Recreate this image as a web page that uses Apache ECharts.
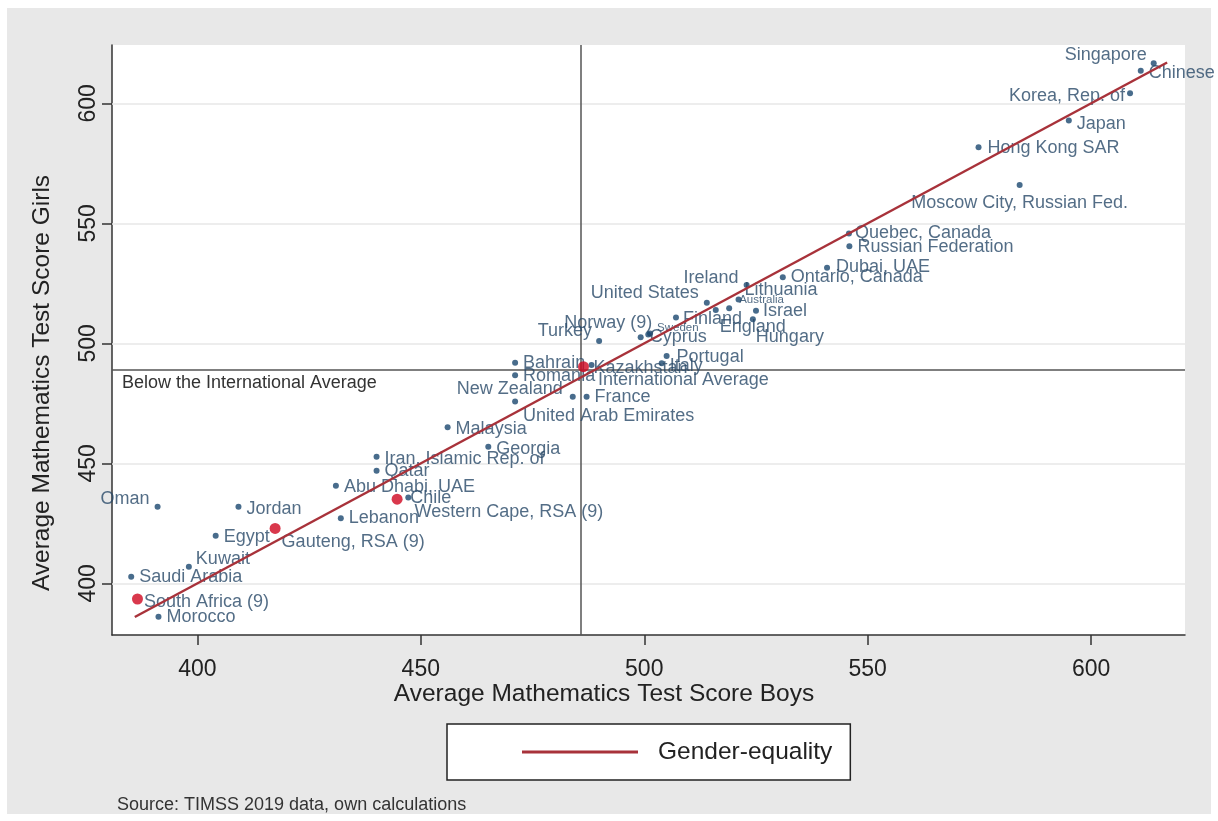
<!DOCTYPE html>
<html>
<head>
<meta charset="utf-8">
<title>TIMSS 2019 mathematics: boys vs girls</title>
<script src="https://cdn.jsdelivr.net/npm/echarts@6/dist/echarts.min.js"></script>
<style>
  html, body { margin: 0; padding: 0; background: #ffffff; }
  #chart { width: 1218px; height: 821px; }
</style>
</head>
<body>
<div id="chart"></div>
<script>
// Average mathematics scores (TIMSS 2019, grade 8) by gender
const countries = [
  'Singapore', 'Chinese', 'Korea, Rep. of', 'Japan', 'Hong Kong SAR',
  'Moscow City, Russian Fed.', 'Quebec, Canada', 'Russian Federation', 'Dubai, UAE',
  'Ontario, Canada', 'Ireland', 'Lithuania', 'Australia', 'England', 'Hungary', 'Israel',
  'United States', 'Finland', 'Norway (9)', 'Sweden', 'Cyprus', 'Turkey', 'Portugal',
  'Italy', 'Kazakhstan', 'Bahrain', 'Romania', 'New Zealand', 'United Arab Emirates',
  'France', 'Malaysia', 'Georgia', 'Iran, Islamic Rep. of', 'Qatar', 'Abu Dhabi, UAE',
  'Chile', 'Lebanon', 'Oman', 'Jordan', 'Egypt', 'Kuwait', 'Saudi Arabia', 'Morocco'
];
const boysScores = [
  614.0, 611.1, 608.7, 595.0, 574.8,
  584.0, 545.8, 545.9, 540.9,
  531.0, 522.9, 521.1, 519.0, 516.0, 524.3, 525.0,
  514.0, 507.1, 500.9, 501.3, 499.2, 489.9, 505.0,
  503.9, 488.2, 471.1, 471.1, 484.0, 471.1,
  487.1, 456.0, 465.1, 440.1, 440.1, 431.0,
  447.2, 432.1, 391.1, 409.2, 404.1, 398.1, 385.2, 391.3
];
const girlsScores = [
  616.7, 613.6, 604.2, 592.8, 581.7,
  566.0, 545.8, 540.5, 531.5,
  527.5, 524.3, 518.3, 514.6, 513.9, 510.0, 513.6,
  516.9, 510.8, 503.7, 504.1, 502.5, 501.0, 494.7,
  491.7, 491.0, 491.9, 486.7, 477.8, 475.8,
  477.8, 465.0, 456.9, 452.8, 446.9, 440.7,
  435.8, 427.1, 431.9, 431.9, 419.8, 406.9, 402.8, 386.1
];

// South African results and the international average (highlighted)
const highlightNames = ['International Average', 'Western Cape, RSA (9)', 'Gauteng, RSA (9)', 'South Africa (9)'];
const highlightBoys  = [486.4, 444.7, 417.4, 386.6];
const highlightGirls = [490.3, 435.1, 422.9, 393.5];

// International averages (reference lines)
const intlAverageBoys = 485.7;
const intlAverageGirls = 489.1;

// Gender-equality diagonal (girls = boys)
const equalityRange = [386, 617];

const tickValues = [400, 450, 500, 550, 600];

// Label placement: [position, dx, dy, fontSize]
const labelPlacement = {
  'Singapore': ['left', 1, -8],
  'Chinese': ['right', 0, 2],
  'Korea, Rep. of': ['left', 3, 3],
  'Japan': ['right', 0, 3],
  'Hong Kong SAR': ['right', 1, 1],
  'Moscow City, Russian Fed.': ['bottom', 0, 1],
  'Quebec, Canada': ['right', -2, 0],
  'Russian Federation': ['right', 0, 1],
  'Dubai, UAE': ['right', 1, -1],
  'Ireland': ['left', 0, -7],
  'Lithuania': ['right', -2, -9],
  'Australia': ['right', 2, -8, 11.5],
  'England': ['right', -4, 17],
  'Hungary': ['right', -5, 18],
  'Israel': ['right', -1, 0],
  'United States': ['left', 0, -10],
  'Finland': ['right', -1, 2],
  'Norway (9)': ['left', 12, -11],
  'Sweden': ['right', -1, -6, 11.5],
  'Cyprus': ['right', 1, 0],
  'Turkey': ['left', 1, -10],
  'Portugal': ['right', 2, 1],
  'Italy': ['right', 0, 3],
  'Kazakhstan': ['right', -6, 3],
  'Romania': ['right', 0, 1],
  'New Zealand': ['left', -2, -8],
  'United Arab Emirates': ['right', 0, 15],
  'Malaysia': ['right', 0, 2],
  'Georgia': ['right', 0, 2],
  'Iran, Islamic Rep. of': ['right', 0, 2],
  'Abu Dhabi, UAE': ['right', 0, 1],
  'Chile': ['right', -6, 1],
  'Oman': ['left', 0, -8],
  'Jordan': ['right', 0, 2],
  'Egypt': ['right', 0, 1],
  'Kuwait': ['right', -1, -8],
  'International Average': ['right', 4, 13],
  'Western Cape, RSA (9)': ['right', 7, 13],
  'Gauteng, RSA (9)': ['right', -4, 14],
  'South Africa (9)': ['right', -4, 3]
};

const FONT = '"Liberation Sans", Arial, Helvetica, sans-serif';
const NAVY = '#1a476f';
const LABEL_COLOR = '#284868';
const RED = '#d0061f';
const LINE_RED = '#a8323a';

function pointItems(names, xs, ys) {
  return names.map(function (name, i) {
    const p = labelPlacement[name] || ['right', 0, 0];
    const label = { position: p[0], offset: [p[1], p[2]] };
    if (p[3]) label.fontSize = p[3];
    return { name: name, value: [xs[i], ys[i]], label: label };
  });
}

const chart = echarts.init(document.getElementById('chart'), null, { renderer: 'canvas' });

const option = {
  animation: false,
  backgroundColor: '#ffffff',
  graphic: [
    { type: 'rect', z: -10, silent: true,
      shape: { x: 7, y: 8, width: 1204, height: 806 },
      style: { fill: '#e8e8e8' } },
    { type: 'text', x: 42, y: 383, rotation: Math.PI / 2, z: 10,
      style: { text: 'Average Mathematics Test Score Girls', font: '24.5px ' + FONT,
               fill: '#222', textAlign: 'center', textVerticalAlign: 'middle' } },
    { type: 'text', x: 604, y: 694, z: 10,
      style: { text: 'Average Mathematics Test Score Boys', font: '24.5px ' + FONT,
               fill: '#222', textAlign: 'center', textVerticalAlign: 'middle' } },
    { type: 'text', x: 122, y: 383, z: 10,
      style: { text: 'Below the International Average', font: '18px ' + FONT,
               fill: '#333', textAlign: 'left', textVerticalAlign: 'middle' } },
    { type: 'text', x: 117, y: 805, z: 10,
      style: { text: 'Source: TIMSS 2019 data, own calculations', font: '18px ' + FONT,
               fill: '#333', textAlign: 'left', textVerticalAlign: 'middle' } }
  ],
  grid: {
    left: 112, right: 33, top: 45, bottom: 186,
    show: true, backgroundColor: '#ffffff', borderWidth: 0
  },
  legend: {
    left: 447, top: 724,
    padding: [15, 18, 15, 75],
    backgroundColor: '#ffffff',
    borderColor: '#222', borderWidth: 1.5, borderRadius: 0,
    itemWidth: 116, itemHeight: 3,
    data: [{ name: 'Gender-equality', icon: 'rect' }],
    textStyle: { fontFamily: FONT, fontSize: 24.5, lineHeight: 26, color: '#222', padding: [0, 0, 0, 15] }
  },
  xAxis: {
    type: 'value',
    min: 380.9, max: 621,
    axisLine: { show: true, onZero: false, lineStyle: { color: '#333', width: 1.5 } },
    axisTick: { show: true, length: 10, customValues: tickValues, lineStyle: { color: '#333', width: 1.5 } },
    axisLabel: { customValues: tickValues, margin: 23, fontFamily: FONT, fontSize: 23, color: '#222' },
    splitLine: { show: false }
  },
  yAxis: {
    type: 'value',
    min: 378.5, max: 624.3,
    axisLine: { show: true, onZero: false, lineStyle: { color: '#333', width: 1.5 } },
    axisTick: { show: true, length: 10, customValues: tickValues, lineStyle: { color: '#333', width: 1.5 } },
    axisLabel: { customValues: tickValues, rotate: 90, margin: 12, fontFamily: FONT, fontSize: 23, color: '#222' },
    splitLine: { show: false }
  },
  series: [
    {
      // horizontal gridlines and the international-average reference lines
      type: 'line', name: 'grid', data: [], z: 1, silent: true,
      markLine: {
        z: 1, silent: true, symbol: 'none', animation: false,
        label: { show: false },
        data: tickValues.map(function (v) {
          return { yAxis: v, lineStyle: { color: '#e7e7e7', width: 1.5, type: 'solid' } };
        }).concat([
          { xAxis: intlAverageBoys, lineStyle: { color: '#555', width: 1.5, type: 'solid' } },
          { yAxis: intlAverageGirls, lineStyle: { color: '#555', width: 1.5, type: 'solid' } }
        ])
      }
    },
    {
      type: 'scatter', name: 'Countries', z: 3,
      symbol: 'circle', symbolSize: 6,
      itemStyle: { color: NAVY },
      label: { show: true, formatter: '{b}', fontFamily: FONT, fontSize: 18, color: LABEL_COLOR, distance: 5 },
      data: pointItems(countries, boysScores, girlsScores)
    },
    {
      type: 'scatter', name: 'Highlighted', z: 4,
      symbol: 'circle', symbolSize: 11,
      itemStyle: { color: RED },
      label: { show: true, formatter: '{b}', fontFamily: FONT, fontSize: 18, color: LABEL_COLOR, distance: 5 },
      data: pointItems(highlightNames, highlightBoys, highlightGirls)
    },
    {
      type: 'line', name: 'Gender-equality', z: 6,
      symbol: 'none', showSymbol: false,
      color: LINE_RED,
      lineStyle: { color: LINE_RED, width: 2.5 },
      data: equalityRange.map(function (v) { return [v, v]; })
    }
  ]
};

chart.setOption(option);
</script>
</body>
</html>
